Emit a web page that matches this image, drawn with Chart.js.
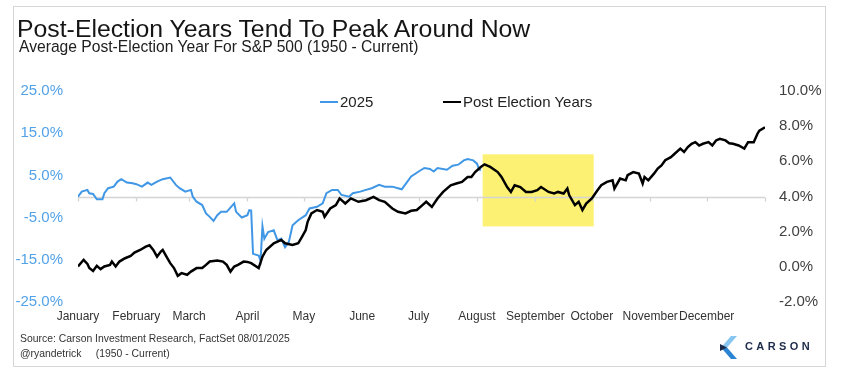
<!DOCTYPE html>
<html>
<head>
<meta charset="utf-8">
<script src="https://cdn.jsdelivr.net/npm/chart.js@4.4.1/dist/chart.umd.min.js"></script>
<style>
  html, body { margin: 0; padding: 0; background: #fff; }
  #wrap { position: relative; width: 841px; height: 369px; overflow: hidden; font-family: "Liberation Sans", Arial, sans-serif; background: #fff; }
  #frame { position: absolute; left: 13px; top: 6px; width: 813px; height: 361px; border: 1px solid #d6d6d6; box-sizing: border-box; }
  #chart { position: absolute; left: 0; top: 0; }
  .txt { position: absolute; white-space: nowrap; line-height: 1; }
  #title { left: 17px; top: 16.5px; font-size: 24.8px; color: #151515; }
  #subtitle { left: 19px; top: 39px; font-size: 15.65px; color: #202020; }
  #src1 { left: 20px; top: 334px; font-size: 10.4px; color: #333; }
  #src2 { left: 20px; top: 349px; font-size: 10.4px; color: #333; }
  #legend { position: absolute; top: 94px; left: 0; font-size: 15px; color: #222; }
  .lg { position: absolute; white-space: nowrap; line-height: 1; top: 0; }
  .sw { position: absolute; height: 0; }
  #logoText { left: 745px; top: 341px; font-size: 11px; font-weight: bold; letter-spacing: 3.4px; color: #1d2b4a; }
  #logo { position: absolute; left: 719px; top: 336px; }
</style>
</head>
<body>
<div id="wrap">
  <div id="frame"></div>
  <canvas id="chart" width="841" height="369"></canvas>
  <div class="txt" id="title">Post-Election Years Tend To Peak Around Now</div>
  <div class="txt" id="subtitle">Average Post-Election Year For S&amp;P 500 (1950 - Current)</div>
  <div id="legend"></div>
  <div class="txt" id="src1">Source: Carson Investment Research, FactSet 08/01/2025</div>
  <div class="txt" id="src2">@ryandetrick&nbsp;&nbsp;&nbsp;&nbsp; (1950 - Current)</div>
  <svg id="logo" width="20" height="23" viewBox="0 0 20 23">
    <polygon points="12,0 18,0 8,11.5 2,11.5" fill="#86c6f0"/>
    <polygon points="2,11.5 8,11.5 18,23 12,23" fill="#2b83d3"/>
    <polygon points="1,8 8,11.5 1,15" fill="#1c2b4b"/>
  </svg>
  <div class="txt" id="logoText">CARSON</div>
</div>
<script>
// ---------- data ----------
const monthLabels = ['January','February','March','April','May','June','July','August','September','October','November','December'];
const monthStartDays = [0,31,59,90,120,151,181,212,243,273,304,334];
const leftTickValues = [-25,-15,-5,5,15,25];
const rightTickValues = [-2,0,2,4,6,8,10];

// Post Election Years (right axis, %), by day of year
const peDays = [0,3,5,6,8,10,12,14,17,18,20,22,25,28,30,33,36,38,40,42,44,45,47,49,51,53,55,58,60,63,66,68,70,74,77,79,81,83,85,88,90,92,96,98,100,104,106,108,110,114,117,119,121,122,124,127,130,131,134,137,139,142,145,149,153,157,160,163,167,170,174,177,180,183,185,188,191,194,198,201,204,207,209,211,214,216,219,223,225,228,230,232,235,238,241,244,246,250,253,255,258,260,261,264,266,268,270,273,276,278,281,284,285,288,291,292,295,298,300,301,303,306,308,310,312,315,317,320,322,324,326,328,330,332,335,337,339,341,344,346,348,351,354,356,359,361,362,365];
const peValues = [0.02,0.40,0.17,-0.07,-0.24,0.06,-0.13,0.02,0.11,0.30,0.02,0.30,0.49,0.62,0.81,0.96,1.15,1.23,0.96,0.58,0.87,0.96,0.58,0.21,-0.07,-0.51,-0.36,-0.45,-0.27,-0.07,-0.07,0.11,0.30,0.36,0.30,0.11,-0.27,0.02,0.11,0.30,0.28,0.21,-0.07,0.58,0.96,1.34,1.43,1.53,1.34,1.25,1.34,1.71,2.09,2.56,3.04,3.23,3.13,2.85,3.32,3.51,3.89,3.60,3.89,3.70,3.79,3.98,3.79,3.70,3.32,3.13,3.04,3.19,3.23,3.51,3.70,3.41,3.89,4.26,4.64,4.74,4.83,5.11,5.11,5.39,5.68,5.83,5.68,5.39,5.11,4.54,4.26,4.64,4.54,4.26,4.26,4.36,4.54,4.26,4.17,4.26,4.17,4.45,4.07,3.51,3.70,3.23,3.60,3.89,4.36,4.64,4.83,4.92,4.45,5.02,4.92,5.21,5.39,5.30,4.74,5.11,4.92,5.30,5.59,5.77,6.06,6.24,6.43,6.72,6.53,6.81,7.00,7.09,6.90,7.00,7.09,6.90,7.19,7.28,7.19,7.03,7.00,6.90,6.72,7.09,7.09,7.57,7.75,7.94];

// 2025 (left axis, %), by day of year
const y25Days = [0,2,5,6,8,10,13,14,16,19,21,23,26,29,31,34,37,39,42,45,49,52,54,57,60,61,63,66,68,70,72,74,76,79,83,84,87,90,91,92,93,96,97,98,99,101,104,106,108,110,112,114,117,121,123,127,130,132,135,138,140,144,146,150,153,156,160,163,167,170,172,175,177,181,184,187,189,191,196,199,202,205,207,210,212,213,214];
const y25Values = [-0.05,1.15,1.56,0.77,0.60,-0.67,-0.67,0.77,1.96,2.34,3.54,4.11,3.30,3.16,2.92,2.34,3.30,2.75,3.54,4.11,4.50,2.75,1.96,1.15,1.56,-0.05,-1.24,-2.03,-4.02,-4.83,-5.79,-4.43,-3.64,-3.64,-1.63,-3.64,-4.98,-4.43,-3.23,-3.35,-13.59,-14.00,-15.19,-7.06,-10.00,-8.42,-8.01,-10.41,-10.00,-12.01,-10.81,-6.82,-5.62,-4.43,-2.82,-2.44,-1.63,0.77,1.56,1.56,0.36,-0.05,0.77,1.15,1.56,1.96,2.75,2.34,2.34,1.96,1.72,3.54,4.74,5.93,6.75,6.51,5.93,6.75,6.34,7.30,7.54,8.56,8.90,8.56,7.78,6.51,6.17];

// highlighted window (day range, right-axis value range)
const highlightDays = [215, 274];
const highlightValues = [2.3, 6.4];

const seriesNames = ['2025', 'Post Election Years'];
const seriesColors = ['#3F97E6', '#000000'];
// ---------- end data ----------

const FONT = '"Liberation Sans", Arial, sans-serif';

const bgPlugin = {
  id: 'bgDecor',
  beforeDatasetsDraw(chart) {
    const { ctx, chartArea, scales } = chart;
    const x = scales.x, yR = scales.yR, yL = scales.yL;
    ctx.save();
    const x0 = x.getPixelForValue(highlightDays[0]);
    const x1 = x.getPixelForValue(highlightDays[1]);
    const yTop = yR.getPixelForValue(highlightValues[1]);
    const yBot = yR.getPixelForValue(highlightValues[0]);
    ctx.fillStyle = '#FCF172';
    ctx.fillRect(x0, yTop, x1 - x0, yBot - yTop);
    const y0 = Math.round(yL.getPixelForValue(0)) + 0.5;
    ctx.strokeStyle = '#d4d4d4';
    ctx.lineWidth = 1.3;
    ctx.beginPath();
    ctx.moveTo(chartArea.left, y0);
    ctx.lineTo(chartArea.right, y0);
    monthStartDays.concat([365]).forEach(d => {
      const px = Math.round(x.getPixelForValue(d)) + 0.5;
      ctx.moveTo(px, y0);
      ctx.lineTo(px, y0 + 4);
    });
    ctx.stroke();
    ctx.restore();
  }
};

const datasets = [
  {
    label: seriesNames[0],
    data: y25Days.map((d, i) => ({ x: d, y: y25Values[i] })),
    yAxisID: 'yL',
    borderColor: seriesColors[0],
    borderWidth: 2,
    pointRadius: 0,
    tension: 0,
    order: 2
  },
  {
    label: seriesNames[1],
    data: peDays.map((d, i) => ({ x: d, y: peValues[i] })),
    yAxisID: 'yR',
    borderColor: seriesColors[1],
    borderWidth: 2.5,
    pointRadius: 0,
    tension: 0,
    order: 1
  }
];

new Chart(document.getElementById('chart'), {
  type: 'line',
  data: { datasets },
  options: {
    responsive: false,
    animation: false,
    devicePixelRatio: 1,
    layout: { padding: { top: 91, left: 0, right: 0, bottom: 0 } },
    plugins: { legend: { display: false }, tooltip: { enabled: false }, title: { display: false } },
    scales: {
      x: {
        type: 'linear',
        min: 0,
        max: 365,
        position: 'bottom',
        grid: { display: false, drawTicks: false },
        border: { display: false },
        afterBuildTicks(s) { s.ticks = monthStartDays.map(v => ({ value: v })); },
        afterFit(s) { s.height = 67; },
        ticks: {
          autoSkip: false,
          maxRotation: 0,
          padding: 7,
          color: '#333',
          font: { family: FONT, size: 12 },
          callback(v) { const i = monthStartDays.indexOf(v); return i >= 0 ? monthLabels[i] : ''; }
        }
      },
      yL: {
        type: 'linear',
        position: 'left',
        min: -25,
        max: 25,
        grid: { display: false, drawTicks: false },
        border: { display: false },
        afterBuildTicks(s) { s.ticks = leftTickValues.map(v => ({ value: v })); },
        afterFit(s) { s.width = 78; },
        ticks: {
          padding: 15,
          color: '#52A2E8',
          font: { family: FONT, size: 15 },
          callback(v) { return v.toFixed(1) + '%'; }
        }
      },
      yR: {
        type: 'linear',
        position: 'right',
        min: -2,
        max: 10,
        grid: { display: false, drawTicks: false },
        border: { display: false },
        afterBuildTicks(s) { s.ticks = rightTickValues.map(v => ({ value: v })); },
        afterFit(s) { s.width = 76; },
        ticks: {
          padding: 14,
          color: '#404040',
          font: { family: FONT, size: 15 },
          callback(v) { return v.toFixed(1) + '%'; }
        }
      }
    }
  },
  plugins: [bgPlugin]
});

// HTML legend
const legend = document.getElementById('legend');
const legendPos = [[320, 340], [443, 463]];
seriesNames.forEach((name, i) => {
  const sw = document.createElement('div');
  sw.className = 'sw';
  sw.style.left = legendPos[i][0] + 'px';
  sw.style.width = (legendPos[i][1] - legendPos[i][0] - 2) + 'px';
  sw.style.top = '7px';
  sw.style.borderTop = (i === 0 ? 2 : 2.5) + 'px solid ' + seriesColors[i];
  legend.appendChild(sw);
  const t = document.createElement('div');
  t.className = 'lg';
  t.style.left = legendPos[i][1] + 'px';
  t.textContent = name;
  legend.appendChild(t);
});
</script>
</body>
</html>
